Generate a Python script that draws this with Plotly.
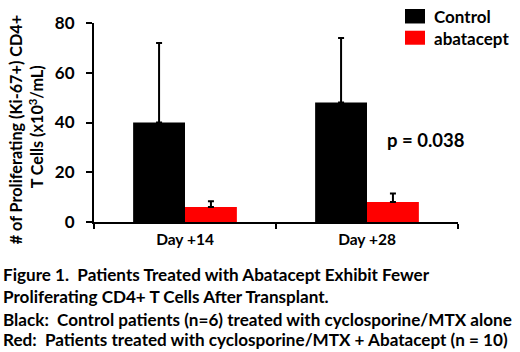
import plotly.graph_objects as go

categories = ["Day +14", "Day +28"]
control_values = [40, 48]
control_err = [32, 26]
abatacept_values = [6, 8]
abatacept_err = [2.3, 3.5]
y_ticks = [0, 20, 40, 60, 80]
series_names = ["Control", "abatacept"]
caption_lines = [
    "Figure 1.  Patients Treated with Abatacept Exhibit Fewer",
    "Proliferating CD4+ T Cells After Transplant.",
    "Black:  Control patients (n=6) treated with cyclosporine/MTX alone",
    "Red:  Patients treated with cyclosporine/MTX + Abatacept (n = 10)",
]

FONT = "Lato"
W, H = 520, 352
L, R, T, B = 94, 62, 16, 130
PW, PH = W - L - R, H - T - B


def px(x):
    return (x - L) / PW


def py(y):
    return (H - B - y) / PH


fig = go.Figure()
fig.add_trace(go.Bar(
    x=categories, y=control_values, name=series_names[0],
    marker=dict(color="#000000", line=dict(width=0)),
    error_y=dict(type="data", array=control_err, arrayminus=[0, 0], symmetric=False,
                 color="#000000", thickness=2, width=3),
    showlegend=False,
))
fig.add_trace(go.Bar(
    x=categories, y=abatacept_values, name=series_names[1],
    marker=dict(color="#FF0000", line=dict(width=0)),
    error_y=dict(type="data", array=abatacept_err, arrayminus=[0, 0], symmetric=False,
                 color="#000000", thickness=2, width=3),
    showlegend=False,
))

fig.update_layout(
    width=W, height=H,
    margin=dict(l=L, r=R, t=T, b=B),
    paper_bgcolor="white", plot_bgcolor="white",
    barmode="group", bargap=0.43, bargroupgap=0,
    font=dict(family=FONT, color="#000000"),
    xaxis=dict(showline=True, linecolor="#000000", linewidth=2, ticks="outside",
               tickson="boundaries", ticklen=5, tickwidth=1.5, tickcolor="#000000",
               tickfont=dict(family=FONT, size=15.5, color="#000000", weight="bold"),
               ticklabelstandoff=2, showgrid=False, zeroline=False),
    yaxis=dict(range=[0, 80], tickvals=y_ticks, showline=True, linecolor="#000000",
               linewidth=2, ticks="outside", ticklen=6, tickwidth=1.5, tickcolor="#000000",
               tickfont=dict(family=FONT, size=17, color="#000000", weight="bold"),
               ticklabelstandoff=8, showgrid=False, zeroline=False),
)

ann = []
# y-axis title, two rotated lines
ann.append(dict(text="# of Proliferating (Ki-67+) CD4+", x=px(15), y=py(127), xref="paper",
                yref="paper", textangle=-90, showarrow=False, xanchor="center", yanchor="middle",
                font=dict(family=FONT, size=16.2, weight="bold")))
ann.append(dict(text="T Cells (x10<sup>3</sup>/mL)", x=px(36), y=py(124), xref="paper",
                yref="paper", textangle=-90, showarrow=False, xanchor="center", yanchor="middle",
                font=dict(family=FONT, size=16.2, weight="bold")))
# p value
ann.append(dict(text="p = 0.038", x=px(426), y=py(137), xref="paper", yref="paper",
                showarrow=False, xanchor="center", yanchor="middle",
                font=dict(family=FONT, size=18.5, weight="bold")))
# legend
shapes = [
    dict(type="rect", xref="paper", yref="paper", x0=px(405), x1=px(425), y0=py(16.5), y1=py(1.5),
         fillcolor="#000000", line=dict(width=0)),
    dict(type="rect", xref="paper", yref="paper", x0=px(405), x1=px(425), y0=py(38.5), y1=py(24),
         fillcolor="#FF0000", line=dict(width=0)),
]
ann.append(dict(text=series_names[0], x=px(432), y=py(9), xref="paper", yref="paper",
                showarrow=False, xanchor="left", yanchor="middle",
                font=dict(family=FONT, size=17, weight="bold")))
ann.append(dict(text=series_names[1], x=px(432), y=py(32), xref="paper", yref="paper",
                showarrow=False, xanchor="left", yanchor="middle",
                font=dict(family=FONT, size=17, weight="bold")))
# caption
for line, yy in zip(caption_lines, [276, 299.5, 322.5, 344]):
    ann.append(dict(text=line, x=px(1), y=py(yy), xref="paper", yref="paper",
                    showarrow=False, xanchor="left", yanchor="middle",
                    font=dict(family=FONT, size=17.1, weight="bold")))

fig.update_layout(annotations=ann, shapes=shapes)
fig.write_html("out.html", config={"displayModeBar": False},
               post_script="document.body.style.margin='0';document.body.style.padding='0';")
